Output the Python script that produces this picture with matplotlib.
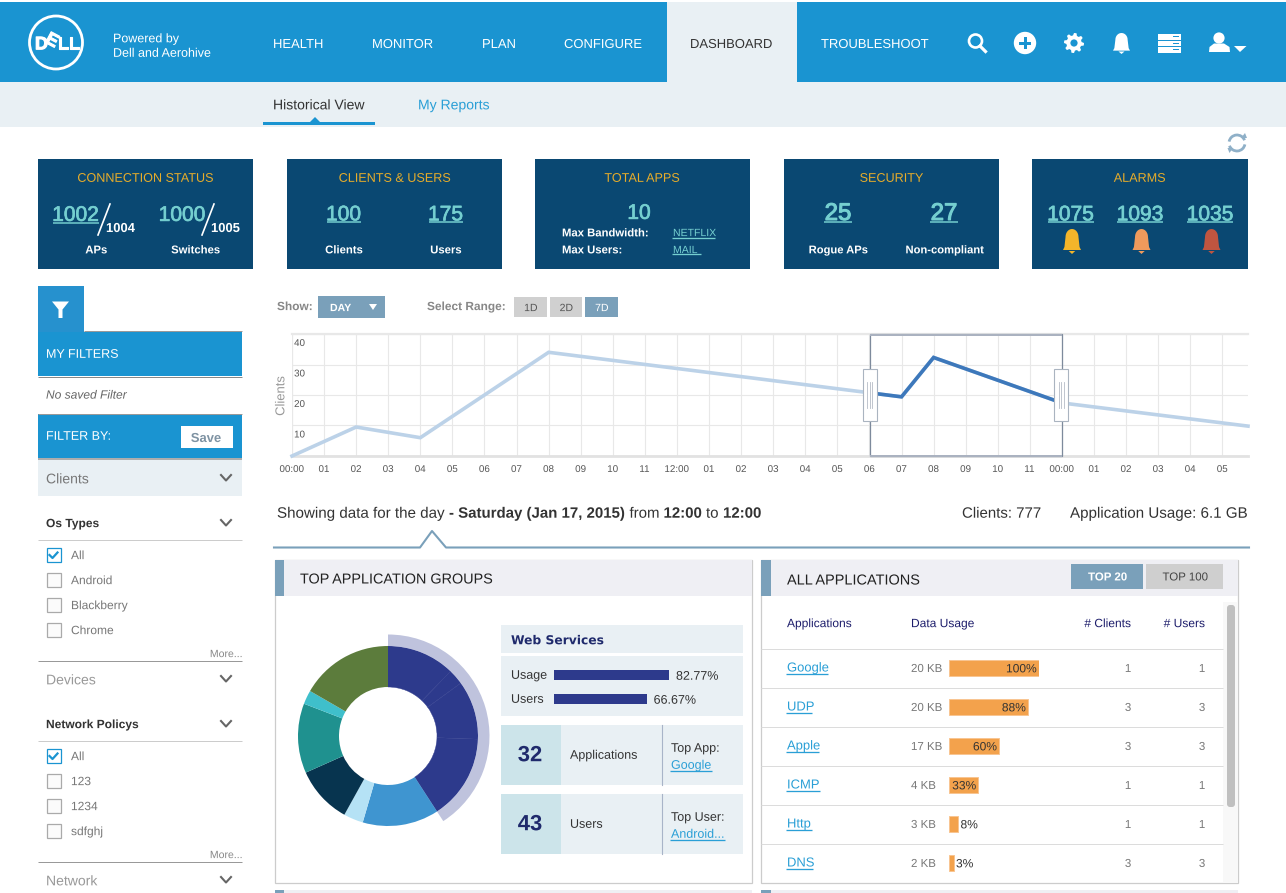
import numpy as np
import matplotlib
matplotlib.use('Agg')
import matplotlib.pyplot as plt
import matplotlib.patheffects as PathEffects
from matplotlib.patches import Rectangle, Circle, Polygon, FancyBboxPatch, Arc

plt.rcParams['font.family'] = ['Liberation Sans', 'DejaVu Sans']
plt.rcParams['text.hinting'] = 'none'
plt.rcParams['text.hinting_factor'] = 1
# keeps text on the sub-pixel grid, otherwise neighbours jump by a pixel
plt.rcParams['path.effects'] = [PathEffects.Normal()]

W, H = 1286, 893

# ---- data
nav_labels = ['HEALTH', 'MONITOR', 'PLAN', 'CONFIGURE', 'DASHBOARD', 'TROUBLESHOOT']
chart_hours = [0, 2, 4, 8, 19, 20, 24, 29.8]
chart_clients = [0, 9.5, 6, 34, 19.4, 32.3, 17.4, 9.8]
hour_labels = ['00:00', '01', '02', '03', '04', '05', '06', '07', '08', '09', '10', '11',
               '12:00', '01', '02', '03', '04', '05', '06', '07', '08', '09', '10', '11',
               '00:00', '01', '02', '03', '04', '05']
group_shares = [44, 10, 38, 55, 49.3, 12.7, 37, 45, 9, 60]
selected_share = [147, 213]
usage_labels = ['Usage', 'Users']
usage_pct = [82.77, 66.67]
app_names = ['Google', 'UDP', 'Apple', 'ICMP', 'Http', 'DNS']
app_sizes = ['20 KB', '20 KB', '17 KB', '4 KB', '3 KB', '2 KB']
app_bar_len = [100, 88, 56, 33, 11, 6]
app_pct_text = ['100%', '88%', '60%', '33%', '8%', '3%']
app_clients = [1, 3, 3, 1, 1, 3]
app_users = [1, 3, 3, 1, 1, 3]
os_types = ['All', 'Android', 'Blackberry', 'Chrome']
net_policies = ['All', '123', '1234', 'sdfghj']

BLUE = '#1a94d1'
PALE = '#e9f0f4'
NAVY = '#0a4872'
STEEL = '#7aa0ba'
TEAL = '#75cfd0'
YEL = '#e8ad2a'
INK = '#2d3a8c'
DEEP = '#1f2a6c'
LINK = '#2a9fd6'
ORANGE = '#f3a24c'

fig = plt.figure(figsize=(W / 100, H / 100), dpi=100, facecolor='white')


def px_axes(z):
    a = fig.add_axes([0, 0, 1, 1], zorder=z)
    a.set_xlim(0, W)
    a.set_ylim(H, 0)
    a.axis('off')
    a.patch.set_alpha(0)
    return a


def box_axes(x0, y0, x1, y1, z=2):
    a = fig.add_axes([x0 / W, 1 - y1 / H, (x1 - x0) / W, (y1 - y0) / H], zorder=z)
    a.patch.set_alpha(0)
    return a


ax = px_axes(0)
top = px_axes(5)


def rect(x0, y0, x1, y1, color, a=None, ec='none', lw=0, z=1):
    (a or ax).add_patch(Rectangle((x0, y0), x1 - x0, y1 - y0, fc=color, ec=ec, lw=lw, zorder=z))


def txt(x, y, s, size, color='#333333', ha='left', weight='normal', style='normal', a=None, heavy=0, **kw):
    # y is about the middle of the capitals, baseline keeps neighbours level
    t = (a or ax).text(x, y + 1.3 + 0.36 * size, s, fontsize=size * 0.72, color=color, ha=ha, va='baseline',
                       fontweight=weight, fontstyle=style, zorder=6, **kw)
    if heavy:
        t.set_path_effects([PathEffects.withStroke(linewidth=heavy, foreground=color)])
    return t


def hline(x0, x1, y, color, lw=1.0, a=None):
    (a or ax).plot([x0, x1], [y, y], color=color, lw=lw * 0.72, solid_capstyle='butt', zorder=3)


def link(x, y, s, size, ux1, uy, color=LINK, ha='left', ux0=None):
    txt(x, y, s, size, color, ha=ha)
    hline(x - 1 if ux0 is None else ux0, ux1, uy, color, 1.3)


def bell(cx, y0, w, h, col):
    t = np.linspace(np.pi, 0, 24)
    dome_x = 0.36 * np.cos(t)
    dome_y = 0.32 - 0.32 * np.sin(t)
    xs = np.concatenate([[-0.5, -0.42], dome_x, [0.42, 0.5]])
    ys = np.concatenate([[0.84, 0.72], dome_y, [0.72, 0.84]])
    ax.add_patch(Polygon(np.c_[cx + xs * w, y0 + ys * h], closed=True, fc=col, ec='none', zorder=4))
    ax.add_patch(Polygon([(cx - 0.18 * w, y0 + 0.88 * h), (cx + 0.18 * w, y0 + 0.88 * h), (cx, y0 + h)],
                         closed=True, fc=col, ec='none', zorder=4))


def chevron(x, y, color='#666666'):
    ax.plot([x - 5, x, x + 5], [y - 3, y + 2.5, y - 3], color=color, lw=1.5, zorder=4)


# ---- header
rect(0, 2, W, 82, BLUE)
rect(667, 2, 797, 82, PALE)
rect(0, 82, W, 127, PALE)
rect(263, 122, 375, 125, BLUE)
ax.add_patch(Polygon([(310, 122), (315, 117), (320, 122)], closed=True, fc=BLUE, ec='none', zorder=3))

ax.add_patch(Circle((56, 42.5), 26.5, fc='none', ec='white', lw=2.0, zorder=4))
txt(35, 41.5, 'D', 18, 'white', weight='bold', heavy=0.8)
ax.text(46.5, 38, 'E', fontsize=18 * 0.72, color='white', fontweight='bold', rotation=-28, rotation_mode='anchor',
        ha='left', va='center', zorder=6, path_effects=[PathEffects.withStroke(linewidth=0.8, foreground='white')])
txt(57.5, 41.5, 'LL', 18, 'white', weight='bold', heavy=0.8)
txt(113, 36.5, 'Powered by', 12.5, 'white')
txt(113, 51, 'Dell and Aerohive', 12.5, 'white')

nav_x = [273, 372, 482, 564, 690, 821]
for lab, x in zip(nav_labels, nav_x):
    txt(x, 42, lab, 13, '#333333' if lab == 'DASHBOARD' else 'white')
txt(273, 103, 'Historical View', 14, '#333333')
txt(418, 103, 'My Reports', 14, LINK)

# header icons
ax.add_patch(Circle((975.5, 41), 6.5, fc='none', ec='white', lw=1.9, zorder=4))
ax.plot([980, 985.5], [46, 51.5], color='white', lw=2.3, zorder=4)
ax.add_patch(Circle((1025, 43), 11.2, fc='white', ec='none', zorder=4))
rect(1019, 41.5, 1031, 44.5, BLUE, z=5)
rect(1023.5, 37, 1026.5, 49, BLUE, z=5)
ang = np.linspace(0, 2 * np.pi, 48, endpoint=False)
rad = np.where((np.arange(48) // 3) % 2 == 0, 10, 7.6)
ax.add_patch(Polygon(np.c_[1074 + rad * np.cos(ang), 43 + rad * np.sin(ang)], closed=True, fc='white', ec='none', zorder=4))
ax.add_patch(Circle((1074, 43), 3.6, fc=BLUE, ec='none', zorder=5))
bell(1121.5, 33, 17, 21, 'white')
for y0, y1 in [(33.5, 39.5), (40.5, 45.5), (47, 52.5)]:
    rect(1158, y0, 1181, y1, 'white', z=4)
    rect(1173, y0 + 2, 1179, y0 + 3.2, BLUE, z=5)
ax.add_patch(Circle((1219, 38), 5.6, fc='white', ec='none', zorder=4))
ax.add_patch(Polygon([(1209, 52), (1209.5, 47), (1214, 43.5), (1224, 43.5), (1229.5, 47), (1230, 52)],
                     closed=True, fc='white', ec='none', zorder=4))
ax.add_patch(Polygon([(1234, 46), (1246.5, 46), (1240, 52)], closed=True, fc='white', ec='none', zorder=4))

# refresh icon
ax.add_patch(Arc((1237, 143), 16, 16, theta1=190, theta2=340, ec='#8fb0c8', lw=2, zorder=4))
ax.add_patch(Arc((1237, 143), 16, 16, theta1=10, theta2=160, ec='#8fb0c8', lw=2, zorder=4))
ax.add_patch(Polygon([(1241, 138), (1247, 138), (1245, 133)], closed=True, fc='#8fb0c8', ec='none', zorder=4))
ax.add_patch(Polygon([(1227.5, 148), (1233, 148), (1229.5, 153)], closed=True, fc='#8fb0c8', ec='none', zorder=4))

# ---- summary cards
for x0, x1, title, dx in [(38, 253, 'CONNECTION STATUS', 3), (287, 502, 'CLIENTS & USERS', 2), (535, 750, 'TOTAL APPS', 2),
                          (784, 999, 'SECURITY', 1), (1032, 1248, 'ALARMS', 0.5)]:
    rect(x0, 159, x1, 269, NAVY)
    txt((x0 + x1) / 2 + dx, 176, title, 12.6, YEL, ha='center')

NUM = 21
txt(75.5, 212, '1002', NUM, TEAL, ha='center', heavy=0.5)
hline(53, 99, 223, TEAL, 1.5)
ax.plot([110, 98], [204, 235], color='white', lw=1.2, zorder=4)
txt(106, 226, '1004', 13, 'white', weight='bold')
txt(182, 212, '1000', NUM, TEAL, ha='center', heavy=0.5)
ax.plot([214, 202], [204, 235], color='white', lw=1.2, zorder=4)
txt(211, 226, '1005', 13, 'white', weight='bold')
txt(96, 248, 'APs', 11.3, 'white', ha='center', weight='bold')
txt(195, 248, 'Switches', 11.3, 'white', ha='center', weight='bold')

for cx, v, lab in [(343.5, '100', 'Clients'), (445.5, '175', 'Users')]:
    txt(cx, 211.5, v, NUM, TEAL, ha='center', heavy=0.5)
    hline(cx - 17, cx + 17, 222, TEAL, 1.5)
    txt(cx, 248, lab, 11.3, 'white', ha='center', weight='bold')

txt(639, 210, '10', NUM, TEAL, ha='center', heavy=0.5)
txt(562, 231, 'Max Bandwidth:', 11.3, 'white', weight='bold')
txt(562, 248, 'Max Users:', 11.3, 'white', weight='bold')
link(673, 231, 'NETFLIX', 10.5, 715, 238, TEAL)
link(673, 248, 'MAIL', 10.5, 701, 254, TEAL)

for cx, v, lab in [(838, '25', 'Rogue APs'), (944, '27', 'Non-compliant')]:
    txt(cx, 210, v, 24, TEAL, ha='center', heavy=0.8)
    hline(cx - 14, cx + 14, 222, TEAL, 1.5)
    txt(cx, 248, lab, 11.2, 'white', ha='center', weight='bold')

alarm_x = [1070.5, 1140, 1210]
for cx, v, col in zip(alarm_x, ['1075', '1093', '1035'], ['#f3b52a', '#ef9a5c', '#bf5540']):
    txt(cx, 211.5, v, NUM, TEAL, ha='center', heavy=0.5)
    hline(cx - 23, cx + 23, 222, TEAL, 1.5)
    bell(cx + 1.5, 229, 18, 25, col)

# ---- sidebar
rect(38, 286, 83.5, 332, '#2691ce')
ax.add_patch(Polygon([(52, 301.5), (69, 301.5), (62.5, 309.5), (62.5, 318), (58.5, 318), (58.5, 309.5)],
                     closed=True, fc='white', ec='none', zorder=4))
hline(83.5, 242, 331, '#999999', 1)
rect(38, 332, 242, 376, BLUE)
hline(38, 242, 376.5, '#888888', 1)
txt(46, 352, 'MY FILTERS', 12.5, 'white')
txt(46, 393, 'No saved Filter', 12, '#666666', style='italic')
rect(38, 414, 242, 458, BLUE)
hline(38, 242, 413.5, '#999999', 1)
hline(38, 242, 459, '#999999', 1.6)
txt(46, 434, 'FILTER BY:', 12.5, 'white')
rect(181, 426, 233, 448, 'white', z=2)
txt(206, 436, 'Save', 13, '#7f93a3', ha='center', weight='bold')
rect(38, 460, 242, 496, PALE)
txt(46, 477, 'Clients', 14, '#777777')
chevron(226, 478)


def filter_group(title, y_title, y_rule, items, y_items, y_more, y_end):
    txt(46, y_title - 1.5, title, 12, '#333333', weight='bold')
    chevron(226, y_title)
    hline(38, 242, y_rule, '#cccccc', 1)
    for i, (name, y) in enumerate(zip(items, y_items)):
        ec = BLUE if i == 0 else '#aaaaaa'
        ax.add_patch(Rectangle((46.5, y - 7), 14, 14, fc='#fbfbfb' if i else 'white', ec=ec, lw=0.9, zorder=3))
        if i == 0:
            ax.plot([49.5, 52.5, 57.5], [y, y + 3, y - 2.5], color=BLUE, lw=1.6, zorder=4)
        txt(71, y - 1.5, name, 12, '#777777')
    txt(241, y_more - 1.5, 'More...', 10.5, '#888888', ha='right')
    hline(38, 242, y_end, '#999999', 1)


filter_group('Os Types', 523, 539.5, os_types, [555, 580, 605, 630], 653.5, 660.5)
txt(46, 678, 'Devices', 14, '#999999')
chevron(226, 679)
filter_group('Network Policys', 724, 740.5, net_policies, [756, 781, 806, 831], 854.5, 861.5)
txt(46, 879, 'Network', 14, '#999999')
chevron(226, 880)

# ---- controls above the chart
txt(277, 304.5, 'Show:', 11.9, '#888888', weight='bold')
rect(318, 296, 385, 318, STEEL)
txt(330, 306, 'DAY', 10.5, 'white', weight='bold')
ax.add_patch(Polygon([(369, 304), (377, 304), (373, 310)], closed=True, fc='white', ec='none', zorder=4))
txt(427, 304.5, 'Select Range:', 11.9, '#888888', weight='bold')
for x0, x1, lab, fc, tc in [(514, 547, '1D', '#d0d0d0', '#555555'), (550, 582, '2D', '#d0d0d0', '#555555'),
                            (585, 618, '7D', STEEL, 'white')]:
    rect(x0, 297, x1, 317, fc)
    txt((x0 + x1) / 2, 306, lab, 10.5, tc, ha='center')

# ---- clients line chart
cax = box_axes(292, 334, 1248, 456)
cax.set_xlim(0, 29.8)
cax.set_ylim(0, 40)
for s in cax.spines.values():
    s.set_visible(False)
cax.set_xticks(range(len(hour_labels)))
cax.set_xticklabels(hour_labels, fontsize=9.8 * 0.72, color='#555555', va='baseline')
cax.set_yticks([0, 10, 20, 30, 40])
cax.set_yticklabels([])
cax.tick_params(length=0, pad=11.5)
cax.grid(True, color='#e8e8e8', lw=0.8)
cax.set_axisbelow(True)
cax.axhline(0, color='#e2e2e2', lw=2, clip_on=False, zorder=1)
cax.axhline(40, color='#e8e8e8', lw=1.6, clip_on=False, zorder=1)
cax.axvline(0, color='#e8e8e8', lw=0.8, zorder=1)
for v in [10, 20, 30, 40]:
    cax.annotate(str(v), (0, v), xytext=(1.5, -8.6), textcoords='offset points', fontsize=9.8 * 0.72,
                 color='#555555', ha='left', va='baseline')
cax.plot(chart_hours, chart_clients, color='#bcd2e8', lw=2.6, solid_joinstyle='miter', zorder=3, clip_on=False)
sel = cax.plot(chart_hours, chart_clients, color='#3d78bb', lw=2.6, solid_joinstyle='miter', zorder=4)[0]
sel.set_clip_path(Rectangle((18, -5), 6, 50, transform=cax.transData))
ax.text(281, 396, 'Clients', fontsize=13 * 0.72, color='#999999', ha='center', va='center', rotation=90, zorder=6)

# selection window
top.add_patch(Rectangle((870, 334), 192, 122, fc='none', ec='#7d8a9c', lw=0.9, zorder=3))
hline(870, 1062, 334.5, '#aab2c0', 2, a=top)
hline(870, 1062, 456, '#aab2c0', 2, a=top)
for hx in [869.5, 1061]:
    top.add_patch(Rectangle((hx - 7, 369), 14, 52, fc='white', ec='#aab4c0', lw=0.8, zorder=4))
    for dx in [-2.5, 0, 2.5]:
        top.plot([hx + dx, hx + dx], [382, 408], color='#b5bcc6', lw=0.6, zorder=5)

# ---- "showing data" line
txt(277, 511, 'Showing data for the day', 15.15, '#333333')
txt(449, 511, '- Saturday (Jan 17, 2015)', 15, '#333333', weight='bold')
txt(629.5, 511, 'from', 15, '#333333')
txt(663.5, 511, '12:00', 15, '#333333', weight='bold')
txt(706, 511, 'to', 15, '#333333')
txt(723, 511, '12:00', 15, '#333333', weight='bold')
txt(962, 511, 'Clients: 777', 15, '#333333')
txt(1070, 511, 'Application Usage: 6.1 GB', 15.15, '#333333')
ax.plot([274, 420, 432, 446, 1249], [547.5, 547.5, 531, 547.5, 547.5], color=STEEL, lw=1.5, zorder=3)

# ---- panels
for x0, x1, sx in [(275, 752, 284), (761, 1238, 771)]:
    ax.add_patch(Rectangle((x0, 560), x1 - x0, 323, fc='white', ec='#cccccc', lw=0.9, zorder=1))
    rect(x0, 560, x1, 596, '#efeff4', z=2)
    rect(x0, 560, sx, 596, STEEL, z=3)
    rect(x0, 890, x1, H, '#efeff4', z=2)
    rect(x0, 890, sx, H, STEEL, z=3)
txt(300, 577, 'TOP APPLICATION GROUPS', 14.4, '#222222')
txt(787, 578, 'ALL APPLICATIONS', 14.5, '#222222')

# donut
dax = box_axes(278, 626, 498, 846)
donut_cols = [INK, INK, INK, INK, '#3f95d0', '#b5e2f5', '#07344f', '#1f918f', '#3fbfcb', '#5c7c3c']
dax.pie(group_shares, colors=donut_cols, radius=90, startangle=90, counterclock=False,
        wedgeprops=dict(width=41, edgecolor='none', linewidth=0))
for w in dax.patches[:4]:
    w.set_edgecolor('#303c8e')
    w.set_linewidth(0.3)
dax.pie(selected_share, colors=['#bfc3dd', 'none'], radius=101.5, startangle=90, counterclock=False,
        wedgeprops=dict(width=11.5, edgecolor='none', linewidth=0))
dax.set_xlim(-110, 110)
dax.set_ylim(-110, 110)
dax.set_aspect('equal')
dax.axis('off')

# web services block
rect(500.5, 625, 742.5, 653, PALE, z=2)
rect(500.5, 656, 742.5, 716, PALE, z=2)
txt(511, 638.5, 'Web Services', 12.3, DEEP, weight='bold', family='DejaVu Sans')
uax = box_axes(554, 663, 693, 711)
uax.barh(usage_labels, usage_pct, height=0.42, color=INK)
uax.set_xlim(0, 100)
uax.set_ylim(1.5, -0.5)
uax.axis('off')
for i, (lab, v) in enumerate(zip(usage_labels, usage_pct)):
    uax.annotate('%.2f%%' % v, (v, i), xytext=(5, 0), textcoords='offset points', fontsize=12.5 * 0.72,
                 color='#333333', va='center_baseline')
    txt(511, 673 + 24 * i, lab, 12.5, '#333333')

for y0, num, lab, head, who, ux in [(725, '32', 'Applications', 'Top App:', 'Google', 712),
                                    (794, '43', 'Users', 'Top User:', 'Android...', 725)]:
    rect(500.5, y0, 742.5, y0 + 60, PALE, z=2)
    rect(500.5, y0, 560.5, y0 + 60, '#cce4ea', z=3)
    ax.plot([661.5, 661.5], [y0, y0 + 60], color='#a8b4c8', lw=0.8, zorder=4)
    txt(530, y0 + 27, num, 22, DEEP, ha='center', weight='bold')
    txt(570, y0 + 28, lab, 12.5, '#333333')
    txt(671, y0 + 21, head, 12.5, '#333333')
    link(671, y0 + 38, who, 12.5, ux, y0 + 46)

# all applications table
rect(1071, 564, 1143, 589, STEEL, z=4)
txt(1107, 575, 'TOP 20', 11.5, 'white', ha='center', weight='bold')
rect(1146, 564, 1223, 589, '#cfcfcf', z=4)
txt(1184.5, 575, 'TOP 100', 11.5, '#444444', ha='center')
rect(1223, 602, 1237.5, 882.5, '#f8f8f8', z=2)
ax.add_patch(FancyBboxPatch((1228, 606), 6, 200, boxstyle='round,pad=1,rounding_size=3', fc='#c0c0c0', ec='none', zorder=4))

for x, lab, ha in [(787, 'Applications', 'left'), (911, 'Data Usage', 'left'), (1131, '# Clients', 'right'),
                   (1205, '# Users', 'right')]:
    txt(x, 621.5, lab, 12, '#1d1d6b', ha=ha)

row_y = [668 + 39 * i for i in range(len(app_names))]
name_ends = [828, 812, 819, 820, 812, 813]
for i, y in enumerate(row_y):
    hline(761, 1223, y - 19.5, '#dcdcdc', 1, a=ax)
    link(787, y - 2.5, app_names[i], 13, name_ends[i], y + 5.5)
    txt(911, y - 1.5, app_sizes[i], 11.5, '#777777')
    txt(1131, y - 1.5, str(app_clients[i]), 11.5, '#777777', ha='right')
    txt(1205, y - 1.5, str(app_users[i]), 11.5, '#777777', ha='right')

bax = box_axes(948.5, row_y[0] - 19.5, 1038.8, row_y[-1] + 19.5)
bax.barh(range(len(app_names)), app_bar_len, height=0.4, color=ORANGE, edgecolor='#f8c592', linewidth=0.7)
bax.set_xlim(0, 100)
bax.set_ylim(len(app_names) - 0.5, -0.5)
bax.axis('off')
for i, (v, lab) in enumerate(zip(app_bar_len, app_pct_text)):
    if v >= 30:
        bax.annotate(lab, (v, i), xytext=(-1.5, 0), textcoords='offset points', fontsize=12 * 0.72,
                     color='#333333', ha='right', va='center_baseline')
    else:
        bax.annotate(lab, (v, i), xytext=(1.5, 0), textcoords='offset points', fontsize=12 * 0.72,
                     color='#333333', ha='left', va='center_baseline')

fig.savefig('out.png', dpi=100)
